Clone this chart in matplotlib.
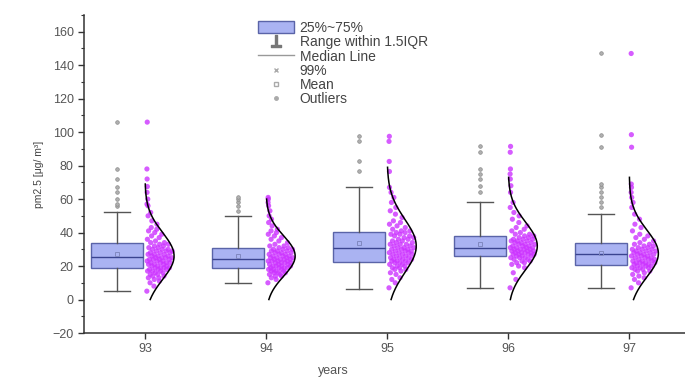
import numpy as np
import matplotlib
matplotlib.use("Agg")
import matplotlib.pyplot as plt
from matplotlib.patches import Patch
from matplotlib.lines import Line2D

plt.rcParams['font.family'] = ['Liberation Sans', 'DejaVu Sans']

# years on the x axis
years = [93, 94, 95, 96, 97]

# box statistics
q1 = [19, 19, 22.5, 26, 20.5]
med = [25.5, 24.5, 30.5, 30.5, 27.5]
q3 = [33.5, 31, 40.5, 38, 33.5]
whis_lo = [5, 10, 6.5, 7, 7]
whis_hi = [52, 50, 67.5, 58, 51]
means = [27, 26, 33.5, 33, 28]

# normal curve drawn next to each box (mean, sd, upper end)
fit_mean = [26, 26, 32, 32, 27.5]
fit_sd = [14, 12, 16, 14, 14]
fit_top = [69, 60, 79, 73, 73]

# individual readings per year (estimated from the point clouds)
pts_93 = [5, 8, 10, 11, 12, 13, 13, 14, 14, 15, 15, 16, 16, 17, 17, 17, 18, 18, 18, 19,
          19, 19, 19, 20, 20, 20, 21, 21, 21, 22, 22, 22, 22, 23, 23, 23, 24, 24, 24, 24,
          25, 25, 25, 25, 26, 26, 26, 27, 27, 27, 28, 28, 28, 29, 29, 29, 30, 30, 30, 31,
          31, 32, 32, 33, 33, 34, 34, 35, 36, 37, 38, 39, 40, 41, 42, 43, 45, 47, 50, 52,
          56, 57, 60, 64, 67.5, 72, 78, 106]
pts_94 = [10, 12, 13, 14, 14, 15, 15, 16, 16, 16, 17, 17, 17, 18, 18, 18, 19, 19, 19, 19,
          20, 20, 20, 20, 21, 21, 21, 22, 22, 22, 22, 23, 23, 23, 23, 24, 24, 24, 24, 25,
          25, 25, 25, 26, 26, 26, 27, 27, 27, 28, 28, 28, 29, 29, 29, 30, 30, 30, 31, 31,
          32, 32, 33, 34, 35, 36, 37, 38, 39, 40, 41, 42, 44, 46, 48, 50, 53, 56, 58, 60, 61]
pts_95 = [7, 10, 12, 13, 15, 16, 17, 18, 18, 19, 19, 20, 20, 21, 21, 22, 22, 22, 23, 23,
          23, 24, 24, 24, 25, 25, 25, 26, 26, 27, 27, 27, 28, 28, 28, 29, 29, 29, 30, 30,
          30, 31, 31, 31, 32, 32, 33, 33, 33, 34, 34, 35, 35, 36, 36, 37, 37, 38, 38, 39,
          39, 40, 40, 41, 41, 42, 43, 44, 45, 46, 47, 49, 51, 53, 55, 58, 61, 64, 67,
          76.5, 82.5, 94.5, 97.5]
pts_96 = [7, 12, 16, 19, 20, 21, 22, 22, 23, 23, 24, 24, 25, 25, 25, 26, 26, 26, 27, 27,
          27, 27, 28, 28, 28, 28, 29, 29, 29, 29, 30, 30, 30, 30, 31, 31, 31, 31, 32, 32,
          32, 33, 33, 33, 34, 34, 34, 35, 35, 35, 36, 36, 36, 37, 37, 38, 38, 39, 39, 40,
          41, 42, 43, 44, 46, 48, 50, 52, 55, 58, 64, 68, 72, 75, 78, 88, 91.5]
pts_97 = [7, 10, 12, 13, 14, 15, 16, 17, 17, 18, 18, 19, 19, 19, 20, 20, 20, 21, 21, 21,
          22, 22, 22, 22, 23, 23, 23, 24, 24, 24, 25, 25, 25, 26, 26, 26, 27, 27, 27, 28,
          28, 28, 29, 29, 29, 30, 30, 30, 31, 31, 32, 32, 33, 33, 34, 35, 36, 37, 38, 39,
          41, 43, 45, 48, 51, 55, 58, 61, 64, 67, 69, 91, 98.5, 147]
points = [pts_93, pts_94, pts_95, pts_96, pts_97]

box_face = '#aab3f2'
box_edge = '#5a64a8'
dot_color = '#cc33ff'
grey = '#555555'

fig = plt.figure(figsize=(6.85, 3.78), dpi=100)
ax = fig.add_axes([84 / 685, 45 / 378, 601 / 685, 318 / 378])

# boxes sit just left of each tick
stats = []
for i, yr in enumerate(years):
    fl = [v for v in points[i] if v > whis_hi[i] or v < whis_lo[i]]
    stats.append(dict(med=med[i], q1=q1[i], q3=q3[i], whislo=whis_lo[i],
                      whishi=whis_hi[i], mean=means[i], fliers=fl))
ax.bxp(stats, positions=[y - 0.235 for y in years], widths=0.43, patch_artist=True,
       showmeans=True, manage_ticks=False,
       boxprops=dict(facecolor=box_face, edgecolor=box_edge, linewidth=1),
       medianprops=dict(color='#3a4490', linewidth=1),
       whiskerprops=dict(color=grey, linewidth=1),
       capprops=dict(color=grey, linewidth=1),
       meanprops=dict(marker='s', markersize=3, markerfacecolor='none',
                      markeredgecolor='#8088c0', markeredgewidth=0.7),
       flierprops=dict(marker='o', markersize=2.6, markerfacecolor='#b0b0b0',
                       markeredgecolor='#8a8a8a', markeredgewidth=0.5))

# points + half normal curve to the right of each tick
golden = (np.sqrt(5) - 1) / 2
peak_w = 0.24
for i, yr in enumerate(years):
    vals = np.array(points[i], dtype=float)
    m, s = fit_mean[i], fit_sd[i]
    dens = np.exp(-0.5 * ((vals - m) / s) ** 2)
    frac = (np.arange(len(vals)) * golden) % 1.0
    xs = yr + 0.015 + frac * np.maximum(dens, 0.02) * peak_w * 0.9
    ax.scatter(xs, vals, s=14, color=dot_color, alpha=0.8, edgecolors='none', zorder=3)

    yy = np.linspace(0, fit_top[i], 200)
    xx = yr + peak_w * np.exp(-0.5 * ((yy - m) / s) ** 2)
    ax.plot(xx, yy, color='black', linewidth=1.1, zorder=4)

ax.set_xlim(92.496, 97.46)
ax.set_ylim(-20, 170)
ax.set_xticks(years)
ax.set_xticklabels([str(y) for y in years])
ax.set_yticks(np.arange(-20, 161, 20))
ax.set_yticks(np.arange(-20, 171, 10), minor=True)
ax.tick_params(axis='both', which='major', direction='out', length=4, width=1,
               colors='#333333', labelsize=9, labelcolor='#555555')
ax.tick_params(axis='y', which='minor', direction='out', length=2, width=0.8, colors='#333333')
for side in ['top', 'right']:
    ax.spines[side].set_visible(False)
for side in ['left', 'bottom']:
    ax.spines[side].set_color('#333333')
    ax.spines[side].set_linewidth(1.1)

ax.set_ylabel('pm2.5 [μg/ m³]', fontsize=7.5, color='#444444', labelpad=6)
ax.set_xlabel('years', fontsize=9, color='#555555')
ax.xaxis.set_label_coords((333 - 84) / 601, -0.1)

handles = [
    Patch(facecolor=box_face, edgecolor=box_edge, linewidth=1),
    Line2D([], [], linestyle='none', marker='$\\perp$', markersize=8, color='#777777'),
    Line2D([], [], color='#999999', linewidth=1),
    Line2D([], [], linestyle='none', marker='x', markersize=3, color='#aaaaaa'),
    Line2D([], [], linestyle='none', marker='s', markersize=3, markerfacecolor='none',
           markeredgecolor='#aaaaaa'),
    Line2D([], [], linestyle='none', marker='o', markersize=2.5, color='#aaaaaa'),
]
labels = ['25%~75%', 'Range within 1.5IQR', 'Median Line', '99%', 'Mean', 'Outliers']
leg = fig.legend(handles, labels, loc='upper left', bbox_to_anchor=(258 / 685, 1 - 21 / 378),
                 frameon=False, fontsize=10, labelspacing=0.02, handlelength=2.6,
                 handleheight=0.9, handletextpad=0.4, borderaxespad=0, borderpad=0)
for t in leg.get_texts():
    t.set_color('#444444')

fig.savefig('out.png', dpi=100)
